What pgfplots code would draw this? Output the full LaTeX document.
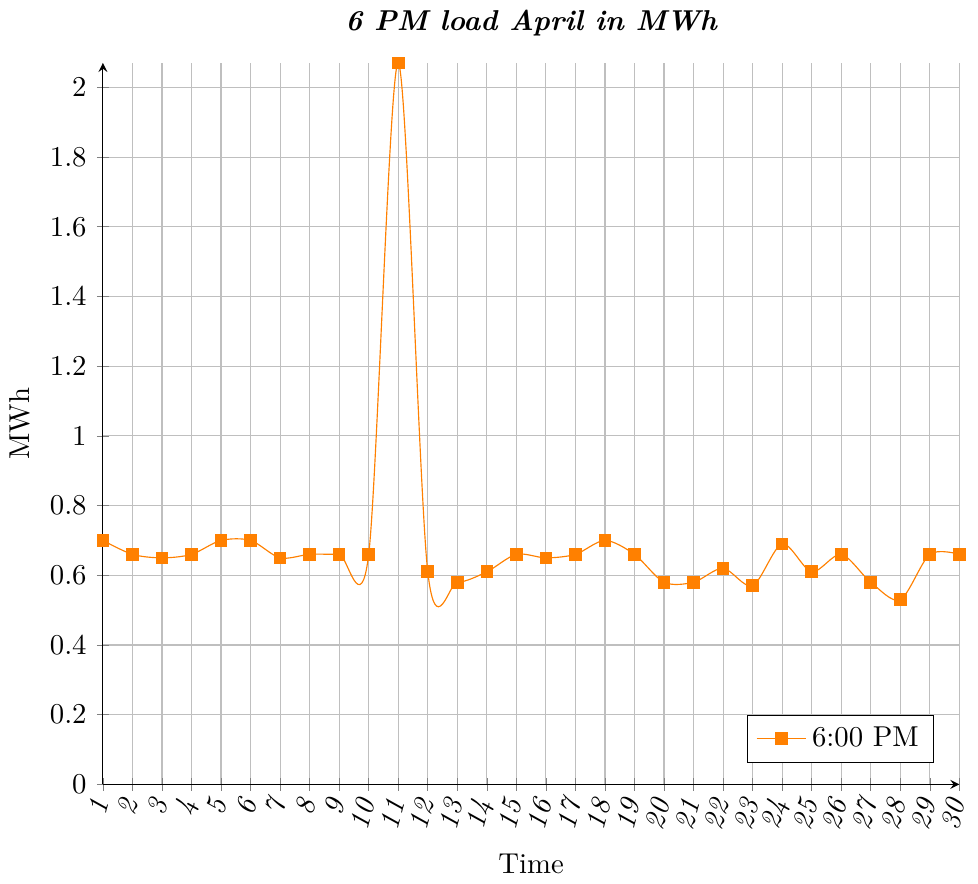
\documentclass[border=0pt]{standalone}
\usepackage{pgfplots}
\pgfplotsset{compat=1.18}
\begin{document}
\begin{tikzpicture}
\begin{axis}[
  scale only axis,
  width=298pt, height=251pt,
  axis lines=left,
  grid=major,
  xmin=1, xmax=30,
  ymin=0, ymax=2.07,
  xtick={1,...,30},
  ytick={0,0.2,...,2.0},
  xticklabel={\itshape\pgfmathprintnumber[assume math mode=true]{\tick}},
  xticklabel style={rotate=75, anchor=east},
  title={6 PM load April in MWh},
  title style={font=\bfseries\itshape},
  xlabel={Time}, ylabel={MWh},
  legend pos=south east,
  legend cell align=left,
]
\addplot[color=orange, mark=square*, smooth, mark options={solid}] coordinates {
(1,0.70) (2,0.66) (3,0.65) (4,0.66) (5,0.70) (6,0.70) (7,0.65) (8,0.66) (9,0.66) (10,0.66)
(11,2.07) (12,0.61) (13,0.58) (14,0.61) (15,0.66) (16,0.65) (17,0.66) (18,0.70) (19,0.66) (20,0.58)
(21,0.58) (22,0.62) (23,0.57) (24,0.69) (25,0.61) (26,0.66) (27,0.58) (28,0.53) (29,0.66) (30,0.66)
};
\addlegendentry{6:00 PM}
\end{axis}
\end{tikzpicture}
\end{document}
